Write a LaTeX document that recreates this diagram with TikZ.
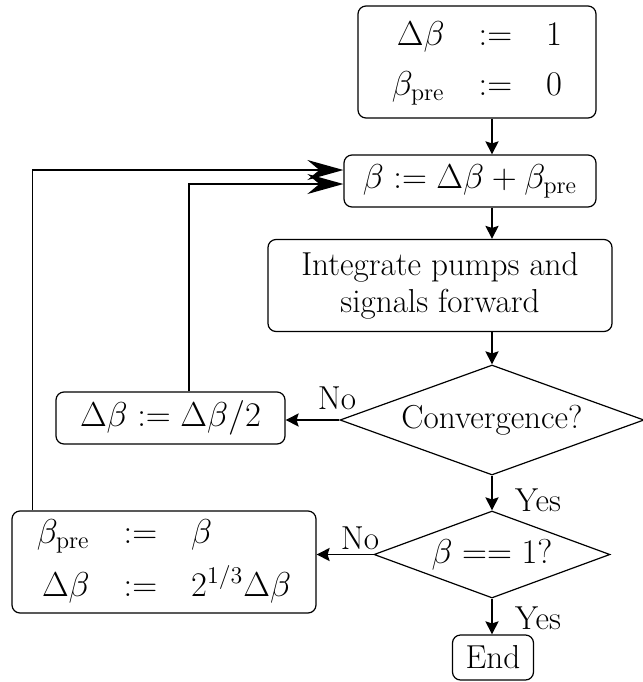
\documentclass[tikz,border=0pt]{standalone}
\usetikzlibrary{shapes.geometric,arrows.meta}
\tikzset{
  box/.style={draw, line width=0.6pt, rounded corners=4pt, inner sep=0pt, align=center},
  dia/.style={draw, line width=0.6pt, shape=diamond, inner sep=0pt, aspect=2.5},
  txt/.style={font=\fontsize{16.6}{18.5}\selectfont},
  flow/.style={line width=0.9pt, -{Stealth[length=6.5pt,width=6.5pt,inset=1pt]}},
  back/.style={line width=0.9pt, -{Stealth[length=18pt,width=10pt,inset=6pt]}},
  lbl/.style={inner sep=0pt, txt}
}
\begin{document}
\begin{tikzpicture}[x=0.5pt,y=-0.5pt,font=\fontsize{17}{20}\selectfont]
\useasboundingbox (0,0) rectangle (643,682);
\setlength{\arraycolsep}{8.5pt}
\node[box, minimum width=119pt, minimum height=56pt] (init) at (477,62)
  {$\begin{array}{rcl}\Delta\beta & := & 1\\[5pt] \beta_{\mathrm{pre}} & := & 0\end{array}$};
\node[box, minimum width=126pt, minimum height=26pt] (upd) at (470,181)
  {$\beta := \Delta\beta + \beta_{\mathrm{pre}}$};
\node[box, txt, minimum width=172pt, minimum height=46pt] (integ) at (440,285.5)
  {Integrate pumps and\\signals forward};
\node[dia, txt, minimum width=152pt, minimum height=55pt] (dec1) at (492,420) {Convergence?};
\node[box, minimum width=114.5pt, minimum height=26pt] (half) at (170.5,418)
  {$\Delta\beta := \Delta\beta/2$};
\node[dia, minimum width=118pt, minimum height=43.5pt] (dec2) at (492,554.5) {$\beta == 1?$};
\node[box, minimum width=152pt, minimum height=51pt] (incr) at (164,562)
  {$\begin{array}{rcl}\beta_{\mathrm{pre}} & := & \beta\\[5pt] \Delta\beta & := & 2^{1/3}\Delta\beta\end{array}$};
\node[box, txt, minimum width=40.5pt, minimum height=22.5pt] (fin) at (493,657.5) {End};

\draw[flow] (init.south -| dec1.north) -- (upd.north -| dec1.north);
\draw[flow] (upd.south -| dec1.north) -- (integ.north -| dec1.north);
\draw[flow] (integ.south -| dec1.north) -- (dec1.north);
\draw[flow] (dec1.south) -- (dec2.north);
\draw[flow] (dec2.south) -- (fin.north -| dec2.south);
\draw[flow] (dec1.west) -- (half.east |- dec1.west);
\draw[flow] (dec2.west) -- (incr.east |- dec2.west);
\draw[back] ([xshift=9.25pt]half.north) |- ([yshift=-1.5pt]upd.west);
\draw[back] ([xshift=10.5pt]incr.north west) |- ([yshift=5.5pt]upd.west);

\node[lbl] (no1) at (337,398) {No};
\node[lbl] (yes1) at (538,500) {Yes};
\node[lbl] (no2) at (360,538) {No};
\node[lbl] (yes2) at (538,618) {Yes};
\end{tikzpicture}
\end{document}
